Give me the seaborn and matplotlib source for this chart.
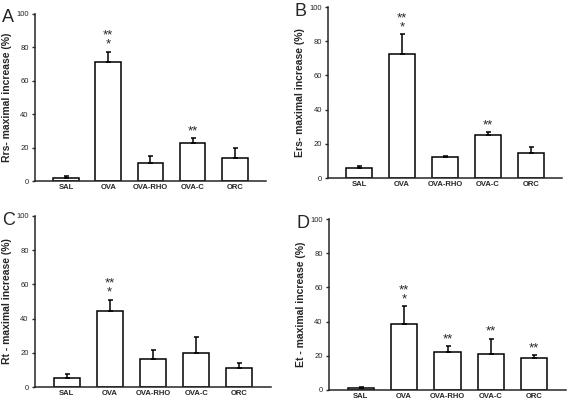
import numpy as np
import pandas as pd
import matplotlib
matplotlib.use("Agg")
import matplotlib.pyplot as plt
import seaborn as sns

sns.set_style("ticks")
plt.rcParams["font.family"] = ["Liberation Sans", "DejaVu Sans"]

# Data

groups = ["SAL", "OVA", "OVA-RHO", "OVA-C", "ORC"]

rrs_mean = [2, 71.5, 10.5, 22.5, 14]
rrs_err = [1, 6, 4.5, 3, 6]
rrs_stars = ["", "**\n*", "", "**", ""]

ers_mean = [6, 72.5, 12, 25, 14.5]
ers_err = [1, 11.5, 1, 2, 3.5]
ers_stars = ["", "**\n*", "", "**", ""]

rt_mean = [5.5, 44.5, 16.5, 20, 11]
rt_err = [2, 6.5, 5, 9.5, 3]
rt_stars = ["", "**\n*", "", "", ""]

et_mean = [1, 38.5, 22, 21, 19]
et_err = [0.5, 10.5, 3.5, 9, 1.5]
et_stars = ["", "**\n*", "**", "**", "**"]

panels = [
    ("A", "Rrs- maximal increase (%)", rrs_mean, rrs_err, rrs_stars, (35, 266, 14, 181)),
    ("B", "Ers- maximal increase (%)", ers_mean, ers_err, ers_stars, (328, 562, 7, 178)),
    ("C", "Rt - maximal increase (%)", rt_mean, rt_err, rt_stars, (35, 271, 216, 387)),
    ("D", "Et - maximal increase (%)", et_mean, et_err, et_stars, (329, 566, 219, 390)),
]

W, H = 567, 400
fig = plt.figure(figsize=(W / 100, H / 100), dpi=100)

for letter, ylabel, mean, err, stars, (l, r, t, b) in panels:
    ax = fig.add_axes([l / W, 1 - b / H, (r - l) / W, (b - t) / H])
    df = pd.DataFrame({"group": groups, "value": mean})
    sns.barplot(
        data=df, x="group", y="value", ax=ax,
        color="white", edgecolor="black", linewidth=1.1,
        width=0.6, errorbar=None, saturation=1
    )
    x = np.arange(len(groups))
    ax.errorbar(
        x, mean, yerr=[np.zeros(len(err)), err],
        fmt="none", ecolor="black", elinewidth=1.1,
        capsize=1.8, capthick=1.1, zorder=1
    )
    for xi, m, e, s in zip(x, mean, err, stars):
        if s:
            ax.text(xi, m + e + 0.5, s, ha="center", va="bottom",
                    fontsize=9.5, linespacing=0.7)

    ax.set_xlim(-0.73, 4.73)
    ax.set_ylim(0, 100)
    ax.set_yticks([0, 20, 40, 60, 80, 100])
    ax.set_xlabel("")
    ax.set_ylabel(ylabel, fontsize=7.5, fontweight="bold", labelpad=3)
    ax.tick_params(axis="y", labelsize=5.5, length=2.5, width=1, pad=2)
    ax.tick_params(axis="x", labelsize=5.5, length=0, pad=2)
    for lab in ax.get_xticklabels():
        lab.set_fontweight("bold")
    sns.despine(ax=ax)
    for sp in ["left", "bottom"]:
        ax.spines[sp].set_linewidth(1.1)
    fig.text((l - 33) / W, 1 - (t + 4) / H, letter, fontsize=13,
             ha="left", va="center")

plt.savefig("out.png", dpi=100)
plt.close()
